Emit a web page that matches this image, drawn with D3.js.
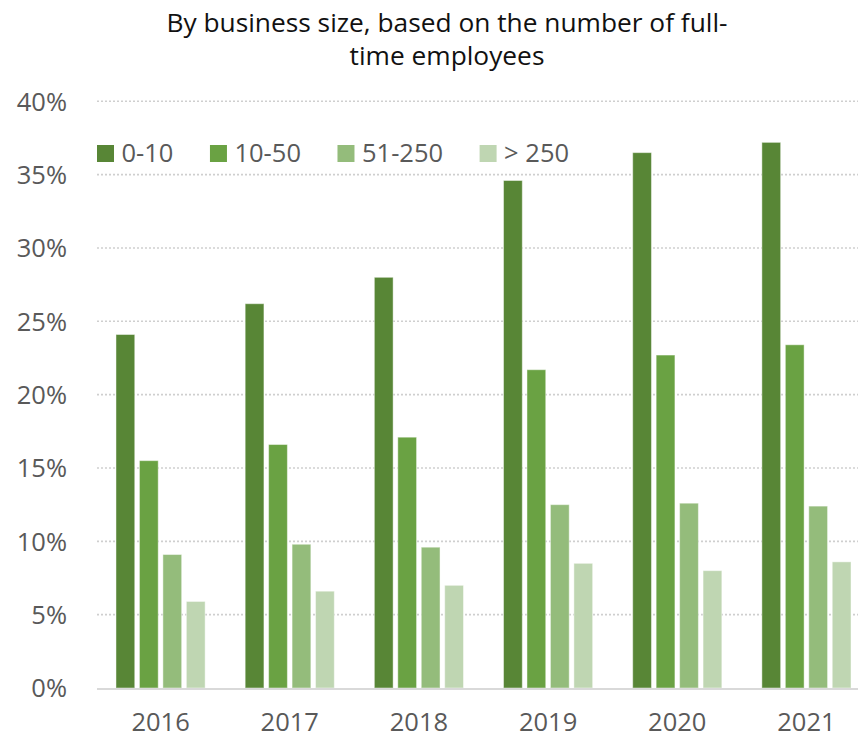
<!DOCTYPE html>
<html>
<head>
<meta charset="utf-8">
<script src="https://cdn.jsdelivr.net/npm/d3@7"></script>
<style>
  html, body { margin: 0; padding: 0; background: #fff; }
  svg { display: block; font-family: "Open Sans", "Noto Sans", sans-serif; }
</style>
</head>
<body>
<svg id="chart" width="860" height="738"></svg>
<script>
// Share of businesses (%) by size class, per year
const years = ["2016", "2017", "2018", "2019", "2020", "2021"];
const sizeClasses = ["0-10", "10-50", "51-250", "> 250"];
const values0to10   = [24.1, 26.2, 28.0, 34.6, 36.5, 37.2];
const values10to50  = [15.5, 16.6, 17.1, 21.7, 22.7, 23.4];
const values51to250 = [9.1, 9.8, 9.6, 12.5, 12.6, 12.4];
const valuesOver250 = [5.9, 6.6, 7.0, 8.5, 8.0, 8.6];
const yTicks = [0, 5, 10, 15, 20, 25, 30, 35, 40];
const titleLines = ["By business size, based on the number of full-", "time employees"];

const seriesValues = [values0to10, values10to50, values51to250, valuesOver250];
const colors = ["#588636", "#6aa243", "#94bc7b", "#bfd6b2"];

const svg = d3.select("#chart");
const plotLeft = 97, plotRight = 858, plotTop = 101.3, plotBottom = 688;

const y = d3.scaleLinear().domain([0, 40]).range([plotBottom, plotTop]);
const x0 = d3.scaleBand().domain(years).range([plotLeft, 870])
  .paddingInner(0.31).paddingOuter(0.147);
const x1 = d3.scaleBand().domain(sizeClasses).range([0, x0.bandwidth()])
  .paddingInner(0.2).paddingOuter(0);
const color = d3.scaleOrdinal().domain(sizeClasses).range(colors);

// Title
svg.append("g").selectAll("text").data(titleLines).join("text")
  .attr("x", 447)
  .attr("y", (d, i) => 32 + i * 33)
  .attr("text-anchor", "middle")
  .attr("font-size", 26.3)
  .attr("fill", "#111")
  .text(d => d);

// Dotted horizontal gridlines
svg.append("g").selectAll("line").data(yTicks.filter(t => t > 0)).join("line")
  .attr("x1", plotLeft).attr("x2", plotRight)
  .attr("y1", d => y(d)).attr("y2", d => y(d))
  .attr("stroke", "#cfcfcf")
  .attr("stroke-width", 1.6)
  .attr("stroke-dasharray", "2,2");

// Y axis labels
const yAxis = d3.axisLeft(y).tickValues(yTicks).tickFormat(d => d + "%").tickSize(0).tickPadding(0);
const yAxisG = svg.append("g").attr("transform", "translate(67,0)").call(yAxis);
yAxisG.select(".domain").remove();
yAxisG.selectAll("text")
  .attr("font-family", "'Open Sans', sans-serif")
  .attr("font-size", 25.5)
  .attr("fill", "#595959")
  .attr("dy", "0.35em");

// Bars
const rows = years.map((yr, i) => ({ year: yr, items: sizeClasses.map((s, k) => ({ key: s, value: seriesValues[k][i] })) }));
const groups = svg.append("g").selectAll("g").data(rows).join("g")
  .attr("transform", d => `translate(${x0(d.year)},0)`);
groups.selectAll("rect").data(d => d.items).join("rect")
  .attr("x", d => x1(d.key))
  .attr("y", d => y(d.value))
  .attr("width", x1.bandwidth())
  .attr("height", d => y(0) - y(d.value))
  .attr("fill", d => color(d.key))
  .attr("stroke", "rgba(255,255,255,0.45)")
  .attr("stroke-width", 1);

// Baseline
svg.append("line")
  .attr("x1", plotLeft).attr("x2", plotRight)
  .attr("y1", y(0) + 1).attr("y2", y(0) + 1)
  .attr("stroke", "#d9d9d9").attr("stroke-width", 2);

// X axis labels
const xAxis = d3.axisBottom(x0).tickSize(0).tickPadding(0);
const xAxisG = svg.append("g").attr("transform", "translate(0,731)").call(xAxis);
xAxisG.select(".domain").remove();
xAxisG.selectAll("text")
  .attr("font-family", "'Open Sans', sans-serif")
  .attr("font-size", 25.5)
  .attr("fill", "#595959")
  .attr("dy", 0);

// Legend
const legend = svg.append("g").attr("transform", "translate(97,145)");
let lx = 0;
sizeClasses.forEach(s => {
  const item = legend.append("g").attr("transform", `translate(${lx},0)`);
  item.append("rect").attr("width", 17).attr("height", 17).attr("fill", color(s));
  const t = item.append("text")
    .attr("x", 24.5).attr("y", 17)
    .attr("font-size", 25.5)
    .attr("fill", "#595959")
    .text(s);
  lx += 24.5 + t.node().getComputedTextLength() + 36.5;
});
</script>
</body>
</html>
